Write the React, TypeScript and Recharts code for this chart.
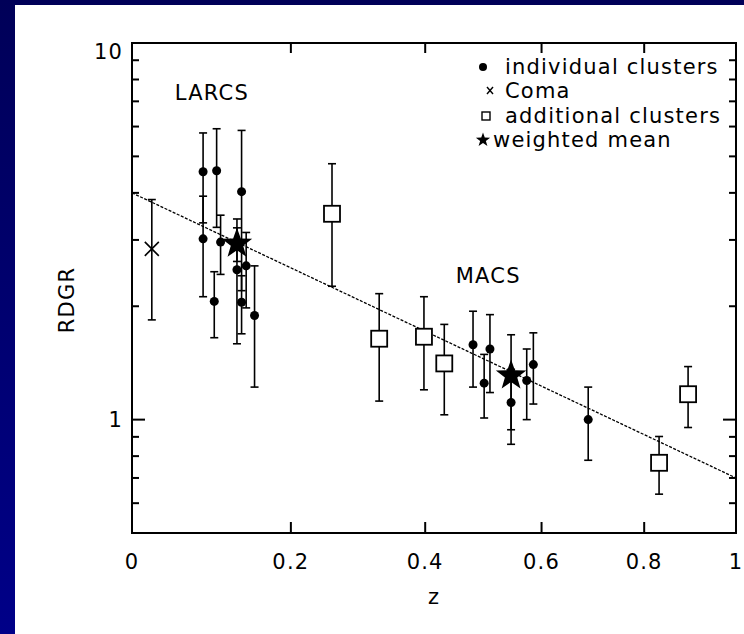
import React from 'react';
import {
  ComposedChart,
  Scatter,
  Line,
  XAxis,
  YAxis,
  ErrorBar,
  ReferenceArea,
  ReferenceDot,
  Label,
  Legend,
} from 'recharts';

// individual clusters (filled circles): redshift, RDGR, error
const zIndividual = [0.085, 0.085, 0.102, 0.107, 0.099, 0.134, 0.128, 0.134, 0.14, 0.151, 0.479, 0.508, 0.498, 0.545, 0.573, 0.585, 0.688];
const rIndividual = [4.55, 3.02, 4.58, 2.96, 2.06, 4.03, 2.5, 2.05, 2.56, 1.89, 1.58, 1.54, 1.25, 1.11, 1.27, 1.4, 1.0];
const eIndividual = [1.22, 0.9, 1.34, 0.53, 0.41, 1.83, 0.91, 0.36, 0.58, 0.67, 0.36, 0.36, 0.24, 0.25, 0.27, 0.3, 0.22];

// Coma
const zComa = [0.023];
const rComa = [2.84];
const eComa = [1.0];

// additional clusters (open squares)
const zAdditional = [0.258, 0.328, 0.398, 0.431, 0.831, 0.893];
const rAdditional = [3.52, 1.64, 1.66, 1.41, 0.768, 1.168];
const eAdditional = [1.26, 0.52, 0.46, 0.38, 0.134, 0.215];

// weighted means (stars)
const zMean = [0.128, 0.545];
const rMean = [2.93, 1.31];
const eMean = [0.3, 0.37];

// power-law fit, ends of the line
const zFit = [0, 1];
const rFit = [4.0, 0.7];

const zTicks = [0, 0.2, 0.4, 0.6, 0.8, 1];
const rTicks = [0.6, 0.7, 0.8, 0.9, 1, 2, 3, 4, 5, 6, 7, 8, 9, 10];
const rLabelled = [1, 10];

const legendLabels = ['individual clusters', 'Coma', 'additional clusters', 'weighted mean'];

// x axis is drawn in log(1+z)
const lz = (z: number) => Math.log10(1 + z);
const rows = (zs: number[], rs: number[], es: number[]) =>
  zs.map((z, i) => ({ lz: lz(z), v: rs[i], e: es[i] }));

const individualRows = rows(zIndividual, rIndividual, eIndividual);
const comaRows = rows(zComa, rComa, eComa);
const additionalRows = rows(zAdditional, rAdditional, eAdditional);
const meanRows = rows(zMean, rMean, eMean);
const fitRows = zFit.map((z, i) => ({ lz: lz(z), v: rFit[i] }));

const W = 744;
const H = 634;
const PLOT_L = 132;
const PLOT_R = 736;
const PLOT_T = 43;
const PLOT_B = 533;

const FONT = { fontFamily: '"DejaVu Sans", sans-serif', fontSize: 21, letterSpacing: 1.2, fill: '#000' };

const starPath = (cx: number, cy: number, ro: number, ri: number) => {
  const pts: string[] = [];
  for (let k = 0; k < 10; k++) {
    const r = k % 2 === 0 ? ro : ri;
    const a = -Math.PI / 2 + (k * Math.PI) / 5;
    pts.push(`${cx + r * Math.cos(a)},${cy + r * Math.sin(a)}`);
  }
  return pts.join(' ');
};

const Dot = (p: any) => <circle cx={p.cx} cy={p.cy} r={4.5} fill="#000" />;
const Cross = (p: any) => (
  <g stroke="#000" strokeWidth={1.6}>
    <line x1={p.cx - 7} y1={p.cy - 7} x2={p.cx + 7} y2={p.cy + 7} />
    <line x1={p.cx - 7} y1={p.cy + 7} x2={p.cx + 7} y2={p.cy - 7} />
  </g>
);
const Box = (p: any) => (
  <rect x={p.cx - 8} y={p.cy - 8} width={16} height={16} fill="#fff" stroke="#000" strokeWidth={1.8} />
);
const Star = (p: any) => <polygon points={starPath(p.cx, p.cy, 16, 6.5)} fill="#000" />;

const XTick = (props: any) => {
  const { x, payload } = props;
  const label = String(Number((10 ** payload.value - 1).toFixed(1)));
  return (
    <g>
      <line x1={x} x2={x} y1={PLOT_B} y2={PLOT_B - 11} stroke="#000" strokeWidth={2} />
      <line x1={x} x2={x} y1={PLOT_T} y2={PLOT_T + 10} stroke="#000" strokeWidth={2} />
      <text x={x} y={562} textAnchor="middle" dominantBaseline="central" style={FONT}>
        {label}
      </text>
    </g>
  );
};

const YTick = (props: any) => {
  const { y, payload } = props;
  const v = payload.value;
  const major = rLabelled.includes(v);
  const len = major ? 13 : 7;
  return (
    <g>
      <line x1={PLOT_L} x2={PLOT_L + len} y1={y} y2={y} stroke="#000" strokeWidth={2} />
      <line x1={PLOT_R - len} x2={PLOT_R} y1={y} y2={y} stroke="#000" strokeWidth={2} />
      {major && (
        <text x={PLOT_L - 9} y={v === 10 ? y + 9 : y} textAnchor="end" dominantBaseline="central" style={FONT}>
          {v}
        </text>
      )}
    </g>
  );
};

const legendSymbol = (i: number) => {
  if (i === 0) return <circle cx={11} cy={12} r={4} fill="#000" />;
  if (i === 1)
    return (
      <g stroke="#000" strokeWidth={1.4}>
        <line x1={15} y1={8} x2={21} y2={15} />
        <line x1={15} y1={15} x2={21} y2={8} />
      </g>
    );
  if (i === 2) return <rect x={10} y={8} width={8} height={8} fill="none" stroke="#000" strokeWidth={1.4} />;
  return <polygon points={starPath(11, 12, 7.5, 3)} fill="#000" />;
};

const LegendBox = () => (
  <div style={{ fontFamily: FONT.fontFamily, fontSize: FONT.fontSize, letterSpacing: FONT.letterSpacing, color: '#000' }}>
    {legendLabels.map((label, i) => (
      <div key={label} style={{ display: 'flex', alignItems: 'center', height: 24.3, whiteSpace: 'nowrap' }}>
        <svg width={22} height={24} style={{ flex: 'none' }}>
          {legendSymbol(i)}
        </svg>
        <span style={{ marginLeft: i === 3 ? -1 : 11, lineHeight: '24px' }}>{label}</span>
      </div>
    ))}
  </div>
);

export default function App() {
  return (
    <div style={{ position: 'fixed', left: 0, top: 0, width: W, height: H, background: 'linear-gradient(#000058, #000088)' }}>
      <div style={{ position: 'absolute', left: 15, top: 5, right: 0, bottom: 0, background: '#fff' }} />
      <div style={{ position: 'absolute', left: 0, top: 0 }}>
        <ComposedChart width={W} height={H} margin={{ top: PLOT_T, right: W - PLOT_R, bottom: 0, left: 0 }}>
          <XAxis
            type="number"
            dataKey="lz"
            domain={[0, lz(1)]}
            ticks={zTicks.map(lz)}
            interval={0}
            allowDataOverflow
            height={H - PLOT_B}
            axisLine={false}
            tickLine={false}
            tick={<XTick />}
          >
            <Label
              content={() => (
                <text x={(PLOT_L + PLOT_R) / 2} y={597} textAnchor="middle" dominantBaseline="central" style={FONT}>
                  z
                </text>
              )}
            />
          </XAxis>
          <YAxis
            type="number"
            dataKey="v"
            scale="log"
            domain={[0.5, 10]}
            ticks={rTicks}
            interval={0}
            allowDataOverflow
            width={PLOT_L}
            axisLine={false}
            tickLine={false}
            tick={<YTick />}
          >
            <Label
              content={() => (
                <text x={67} y={300} transform="rotate(-90 67 300)" textAnchor="middle" dominantBaseline="central" style={FONT}>
                  RDGR
                </text>
              )}
            />
          </YAxis>
          <ReferenceArea x1={0} x2={lz(1)} y1={0.5} y2={10} fill="none" stroke="#000" strokeWidth={2} />
          <ReferenceDot x={lz(0.096)} y={7.4} r={0} stroke="none" fill="none">
            <Label value="LARCS" position="center" style={FONT} />
          </ReferenceDot>
          <ReferenceDot x={lz(0.505)} y={2.41} r={0} stroke="none" fill="none">
            <Label value="MACS" position="center" style={FONT} />
          </ReferenceDot>
          <Line
            data={fitRows}
            dataKey="v"
            type="linear"
            stroke="#000"
            strokeWidth={1.3}
            strokeDasharray="3 1.5"
            dot={false}
            activeDot={false}
            isAnimationActive={false}
          />
          <Scatter name="individual clusters" data={individualRows} shape={Dot} isAnimationActive={false}>
            <ErrorBar dataKey="e" direction="y" width={4} stroke="#000" strokeWidth={1.6} />
          </Scatter>
          <Scatter name="Coma" data={comaRows} shape={Cross} isAnimationActive={false}>
            <ErrorBar dataKey="e" direction="y" width={4} stroke="#000" strokeWidth={1.6} />
          </Scatter>
          <Scatter name="additional clusters" data={additionalRows} shape={Box} isAnimationActive={false}>
            <ErrorBar dataKey="e" direction="y" width={4} stroke="#000" strokeWidth={1.6} />
          </Scatter>
          <Scatter name="weighted mean" data={meanRows} shape={Star} isAnimationActive={false}>
            <ErrorBar dataKey="e" direction="y" width={4} stroke="#000" strokeWidth={1.6} />
          </Scatter>
          <Legend
            layout="vertical"
            align="center"
            verticalAlign="middle"
            wrapperStyle={{ left: 472, top: 55, width: 270 }}
            content={() => <LegendBox />}
          />
        </ComposedChart>
      </div>
    </div>
  );
}
